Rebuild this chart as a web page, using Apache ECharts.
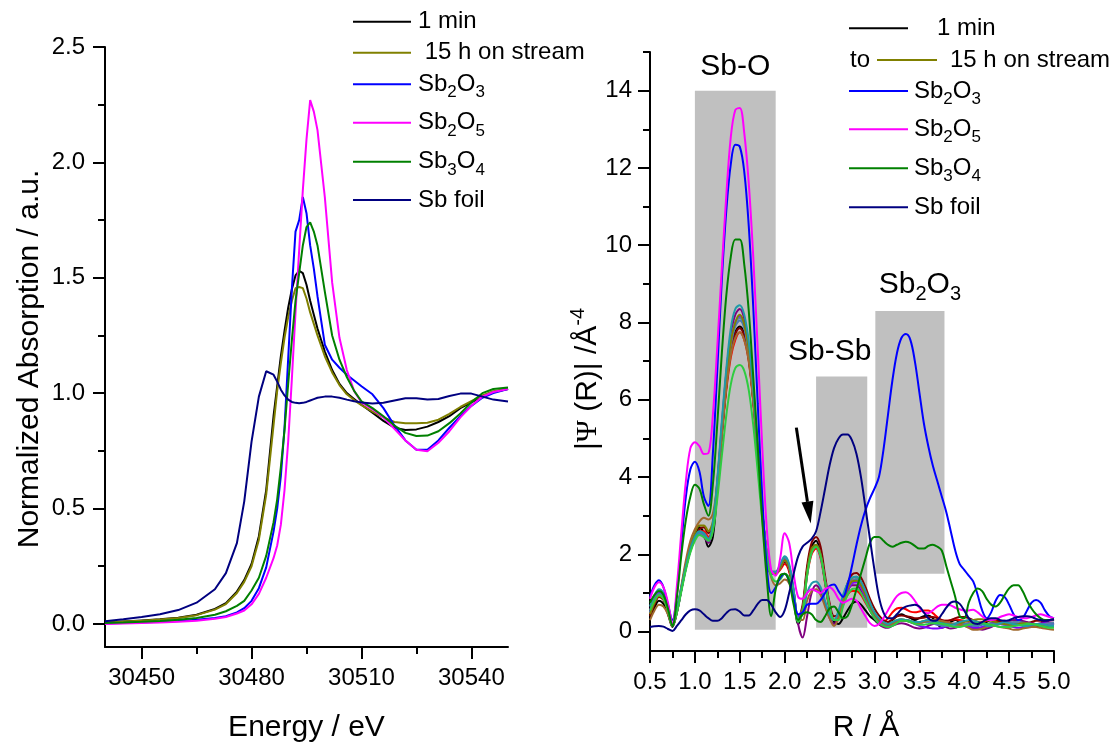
<!DOCTYPE html>
<html><head><meta charset="utf-8">
<script src="https://cdn.jsdelivr.net/npm/echarts@6/dist/echarts.min.js"></script>
<style>html,body{margin:0;padding:0;background:#fff}#c{width:1120px;height:748px}</style>
</head><body><div id="c"></div>
<script>
// ---------- Left panel: XANES ----------
const energy = [30440,30445,30450,30455,30460,30465,30470,30473,30476,30478,
30480,30482,30484,30486,30487,30488,30489,30490,30491,30492,
30493,30494,30495,30496,30497,30498,30500,30502,30504,30506,
30508,30510,30513,30516,30519,30522,30525,30528,30531,30534,
30537,30540,30543,30546,30550];
const xanes1min = [0.005,0.010,0.015,0.020,0.027,0.040,0.065,0.090,0.140,0.190,
0.260,0.380,0.580,0.900,1.030,1.160,1.270,1.370,1.450,1.510,
1.530,1.520,1.470,1.400,1.340,1.280,1.180,1.100,1.040,1.000,
0.975,0.950,0.915,0.880,0.850,0.840,0.843,0.855,0.875,0.900,
0.935,0.960,0.985,1.005,1.018];
const xanes15h = [0.005,0.010,0.014,0.019,0.026,0.038,0.062,0.086,0.134,0.182,
0.250,0.365,0.560,0.860,1.010,1.130,1.240,1.330,1.400,1.455,
1.460,1.455,1.410,1.350,1.300,1.250,1.160,1.090,1.035,0.995,
0.970,0.948,0.920,0.895,0.875,0.870,0.870,0.872,0.885,0.910,
0.940,0.965,0.990,1.008,1.020];
const xanesSb2O3 = [0.002,0.004,0.006,0.009,0.013,0.018,0.026,0.033,0.050,0.068,
0.100,0.155,0.245,0.400,0.500,0.640,0.850,1.150,1.450,1.700,
1.750,1.850,1.780,1.640,1.540,1.420,1.210,1.145,1.110,1.080,
1.055,1.030,0.995,0.935,0.860,0.795,0.755,0.755,0.795,0.850,
0.900,0.945,0.980,1.000,1.018];
const xanesSb2O5 = [0.000,0.002,0.004,0.006,0.009,0.014,0.022,0.030,0.045,0.058,
0.085,0.130,0.200,0.285,0.340,0.430,0.580,0.790,1.060,1.350,
1.620,1.880,2.100,2.270,2.220,2.140,1.850,1.480,1.240,1.100,
1.010,0.960,0.930,0.895,0.845,0.795,0.755,0.748,0.785,0.835,
0.895,0.945,0.985,1.005,1.018];
const xanesSb3O4 = [0.004,0.006,0.009,0.013,0.018,0.026,0.040,0.055,0.078,0.100,
0.145,0.200,0.295,0.440,0.540,0.680,0.840,1.040,1.230,1.400,
1.520,1.640,1.720,1.740,1.700,1.640,1.440,1.250,1.145,1.070,
1.010,0.965,0.935,0.900,0.860,0.828,0.814,0.816,0.835,0.870,
0.912,0.960,1.000,1.018,1.025];
const xanesFoil = [0.012,0.020,0.030,0.042,0.060,0.092,0.150,0.220,0.350,0.530,
0.790,0.985,1.095,1.080,1.050,1.015,0.990,0.972,0.962,0.958,
0.956,0.958,0.962,0.968,0.974,0.980,0.985,0.985,0.980,0.972,
0.965,0.960,0.955,0.958,0.968,0.978,0.978,0.972,0.975,0.988,
0.998,0.998,0.985,0.972,0.964];
const energyTicks = [30450,30480,30510,30540];
const energyMinor = [30465,30495,30525];
const absTicks = [0,0.5,1.0,1.5,2.0,2.5];
const absMinor = [0.25,0.75,1.25,1.75,2.25];

// ---------- Right panel: FT-EXAFS ----------
const rValues = [0.50,0.55,0.60,0.65,0.70,0.75,0.80,0.85,0.90,0.95,
1.00,1.05,1.10,1.15,1.20,1.25,1.30,1.35,1.40,1.45,
1.50,1.55,1.60,1.65,1.70,1.75,1.80,1.85,1.90,1.95,
2.00,2.05,2.10,2.15,2.20,2.25,2.30,2.35,2.40,2.45,
2.50,2.55,2.60,2.65,2.70,2.75,2.80,2.85,2.90,2.95,
3.00,3.05,3.10,3.15,3.20,3.25,3.30,3.35,3.40,3.45,
3.50,3.55,3.60,3.65,3.70,3.75,3.80,3.85,3.90,3.95,
4.00,4.05,4.10,4.15,4.20,4.25,4.30,4.35,4.40,4.45,
4.50,4.55,4.60,4.65,4.70,4.75,4.80,4.85,4.90,4.95,
5.00];
const ft1min = [0.35,0.62,0.80,0.72,0.45,0.12,0.50,1.10,1.70,2.20,
2.50,2.70,2.55,2.20,2.45,3.70,5.10,6.35,7.25,7.75,
7.90,7.70,7.10,6.00,4.60,3.10,2.00,1.50,1.50,1.65,
1.85,1.60,0.90,0.20,0.60,1.60,2.20,2.35,2.00,1.30,
0.60,0.25,0.20,0.35,0.55,0.72,0.78,0.70,0.55,0.40,
0.30,0.20,0.15,0.20,0.30,0.40,0.45,0.40,0.35,0.30,
0.35,0.40,0.42,0.35,0.20,0.10,0.15,0.25,0.30,0.25,
0.20,0.15,0.10,0.15,0.20,0.25,0.30,0.30,0.25,0.20,
0.20,0.20,0.22,0.25,0.22,0.20,0.15,0.12,0.15,0.18,
0.20];
const ftScan2 = [0.45,0.75,0.95,0.85,0.55,0.15,0.55,1.15,1.75,2.20,
2.45,2.60,2.60,2.45,2.70,3.80,5.10,6.25,7.10,7.55,
7.75,7.55,7.00,5.95,4.55,3.10,2.05,1.55,1.50,1.60,
1.75,1.55,0.95,0.35,0.55,1.45,2.00,2.15,1.90,1.25,
0.60,0.30,0.40,0.70,0.95,1.05,1.05,0.95,0.75,0.55,
0.40,0.30,0.25,0.35,0.50,0.60,0.62,0.58,0.52,0.50,
0.52,0.55,0.55,0.48,0.38,0.30,0.28,0.30,0.32,0.30,
0.28,0.25,0.22,0.22,0.25,0.28,0.30,0.28,0.25,0.22,
0.20,0.18,0.18,0.20,0.22,0.22,0.20,0.18,0.15,0.15,
0.15];
const ftScan3 = [0.40,0.70,0.90,0.82,0.55,0.15,0.50,1.10,1.70,2.15,
2.45,2.65,2.70,2.55,2.75,3.75,5.15,6.35,7.25,7.70,
7.85,7.65,7.05,6.00,4.60,3.10,2.05,1.55,1.50,1.65,
1.80,1.60,1.00,0.35,0.70,1.70,2.30,2.45,2.20,1.45,
0.75,0.40,0.45,0.85,1.25,1.48,1.52,1.40,1.15,0.85,
0.60,0.42,0.30,0.25,0.32,0.40,0.42,0.40,0.38,0.35,
0.35,0.36,0.38,0.38,0.35,0.30,0.28,0.30,0.35,0.38,
0.38,0.35,0.30,0.25,0.22,0.20,0.22,0.25,0.28,0.28,
0.25,0.22,0.20,0.20,0.22,0.25,0.28,0.28,0.25,0.22,
0.22];
const ftScan4 = [0.50,0.82,1.00,0.90,0.60,0.18,0.55,1.10,1.65,2.10,
2.40,2.55,2.45,2.30,2.70,3.90,5.35,6.70,7.70,8.20,
8.35,8.10,7.40,6.20,4.70,3.15,2.05,1.55,1.55,1.70,
1.90,1.70,1.05,0.20,-0.15,0.40,1.00,1.20,1.05,0.70,
0.35,0.20,0.45,0.80,1.05,1.20,1.20,1.05,0.80,0.55,
0.35,0.20,0.12,0.10,0.15,0.20,0.22,0.20,0.15,0.10,
0.08,0.10,0.15,0.20,0.22,0.18,0.12,0.08,0.10,0.15,
0.18,0.15,0.10,0.08,0.05,0.08,0.12,0.18,0.22,0.25,
0.28,0.30,0.30,0.28,0.25,0.22,0.20,0.22,0.25,0.28,
0.30];
const ftScan5 = [0.55,0.85,1.00,0.92,0.62,0.18,0.55,1.10,1.65,2.10,
2.40,2.55,2.50,2.35,2.65,3.80,5.20,6.50,7.50,8.00,
8.15,7.90,7.25,6.10,4.65,3.10,2.00,1.50,1.50,1.65,
1.85,1.65,1.05,0.40,0.60,1.50,2.10,2.20,1.95,1.30,
0.65,0.30,0.35,0.70,1.05,1.25,1.28,1.15,0.90,0.62,
0.40,0.25,0.18,0.15,0.18,0.25,0.30,0.30,0.25,0.20,
0.15,0.12,0.10,0.08,0.08,0.10,0.15,0.20,0.20,0.18,
0.15,0.12,0.10,0.10,0.12,0.15,0.18,0.20,0.20,0.18,
0.15,0.12,0.10,0.10,0.12,0.15,0.18,0.20,0.22,0.22,
0.20];
const ftScan6 = [0.48,0.78,0.95,0.86,0.57,0.16,0.52,1.08,1.65,2.12,
2.42,2.58,2.52,2.38,2.72,3.85,5.25,6.55,7.50,8.00,
8.12,7.90,7.25,6.10,4.62,3.10,2.02,1.52,1.52,1.70,
1.92,1.70,1.05,0.28,0.52,1.48,2.10,2.25,2.00,1.32,
0.66,0.30,0.38,0.78,1.12,1.32,1.36,1.25,1.00,0.72,
0.48,0.32,0.24,0.20,0.22,0.26,0.28,0.28,0.26,0.24,
0.24,0.25,0.26,0.25,0.22,0.18,0.15,0.14,0.15,0.18,
0.20,0.22,0.24,0.24,0.22,0.20,0.18,0.18,0.20,0.22,
0.24,0.25,0.25,0.24,0.22,0.20,0.18,0.18,0.20,0.22,
0.24];
const ftScan7 = [0.50,0.80,0.98,0.88,0.58,0.15,0.55,1.10,1.65,2.10,
2.40,2.55,2.50,2.35,2.70,3.80,5.20,6.45,7.40,7.90,
8.05,7.85,7.20,6.05,4.60,3.10,2.00,1.50,1.50,1.65,
1.85,1.65,1.00,0.30,0.55,1.50,2.05,2.20,1.95,1.30,
0.65,0.30,0.35,0.75,1.10,1.30,1.35,1.22,0.98,0.70,
0.45,0.30,0.20,0.18,0.22,0.28,0.30,0.28,0.25,0.22,
0.22,0.25,0.25,0.22,0.18,0.15,0.15,0.18,0.22,0.22,
0.20,0.18,0.15,0.15,0.18,0.20,0.22,0.22,0.20,0.18,
0.18,0.18,0.20,0.22,0.22,0.20,0.18,0.15,0.15,0.18,
0.20];
const ftScan8 = [0.30,0.55,0.70,0.65,0.45,0.15,0.55,1.20,1.85,2.35,
2.65,2.85,2.95,2.90,3.05,3.85,5.10,6.30,7.15,7.60,
7.75,7.55,7.00,5.95,4.55,3.05,1.95,1.40,1.20,1.25,
1.35,1.25,0.85,0.30,0.30,0.80,1.05,1.10,0.95,0.65,
0.35,0.15,0.35,0.80,1.15,1.38,1.42,1.30,1.05,0.75,
0.48,0.32,0.22,0.18,0.20,0.25,0.28,0.28,0.25,0.22,
0.22,0.25,0.28,0.30,0.30,0.28,0.25,0.22,0.20,0.18,
0.15,0.10,0.05,0.05,0.08,0.12,0.15,0.15,0.12,0.10,
0.08,0.05,0.05,0.08,0.10,0.12,0.12,0.10,0.08,0.06,
0.05];
const ftScan9 = [0.65,0.95,1.10,1.00,0.65,0.18,0.60,1.15,1.70,2.15,
2.45,2.60,2.55,2.40,2.80,3.95,5.45,6.80,7.85,8.35,
8.45,8.20,7.50,6.30,4.75,3.15,2.05,1.55,1.55,1.75,
1.95,1.75,1.10,0.35,0.45,1.00,1.25,1.30,1.15,0.80,
0.45,0.30,0.55,0.95,1.25,1.40,1.42,1.30,1.05,0.75,
0.50,0.35,0.25,0.20,0.25,0.30,0.32,0.30,0.28,0.25,
0.25,0.28,0.30,0.28,0.25,0.22,0.20,0.18,0.20,0.25,
0.28,0.30,0.28,0.25,0.20,0.15,0.15,0.18,0.22,0.25,
0.22,0.20,0.18,0.15,0.15,0.18,0.20,0.20,0.18,0.15,
0.15];
const ftScan10 = [0.55,0.80,0.95,0.85,0.55,0.15,0.50,1.05,1.60,2.05,
2.35,2.50,2.45,2.35,2.60,3.45,4.55,5.60,6.40,6.82,
6.90,6.75,6.25,5.35,4.15,2.90,1.90,1.45,1.30,1.35,
1.50,1.40,0.90,0.25,0.50,1.45,2.05,2.20,1.95,1.30,
0.65,0.30,0.30,0.65,0.95,1.10,1.12,1.00,0.78,0.55,
0.35,0.22,0.15,0.12,0.15,0.22,0.28,0.28,0.25,0.20,
0.18,0.18,0.20,0.22,0.22,0.20,0.18,0.15,0.12,0.12,
0.15,0.18,0.20,0.22,0.22,0.20,0.18,0.15,0.12,0.12,
0.12,0.14,0.16,0.18,0.20,0.20,0.18,0.15,0.12,0.10,
0.10];
const ft15h = [0.45,0.75,0.92,0.85,0.55,0.15,0.55,1.15,1.75,2.25,
2.55,2.75,2.75,2.60,2.85,3.85,5.25,6.50,7.50,8.00,
8.20,7.95,7.30,6.15,4.70,3.15,2.05,1.55,1.50,1.65,
1.85,1.65,1.00,0.30,0.60,1.55,2.15,2.25,2.00,1.30,
0.65,0.30,0.35,0.75,1.10,1.30,1.32,1.20,0.95,0.68,
0.45,0.30,0.22,0.20,0.25,0.30,0.32,0.30,0.28,0.25,
0.25,0.28,0.30,0.30,0.28,0.25,0.22,0.20,0.20,0.22,
0.25,0.28,0.30,0.32,0.32,0.30,0.28,0.25,0.22,0.20,
0.18,0.18,0.20,0.22,0.22,0.20,0.18,0.16,0.15,0.15,
0.15];
const ftSb2O3 = [0.90,1.20,1.33,1.15,0.70,0.30,1.00,2.30,3.50,4.20,
4.40,4.15,3.50,3.25,4.60,6.80,9.10,10.90,12.10,12.60,
12.55,11.90,10.50,8.40,5.90,3.50,1.70,1.00,1.15,1.40,
1.50,1.30,0.85,0.45,0.50,0.70,0.72,0.72,0.82,1.00,
1.18,1.22,1.05,0.90,1.20,1.70,2.25,2.75,3.15,3.45,
3.70,4.00,4.70,5.60,6.50,7.20,7.60,7.70,7.55,7.00,
6.20,5.40,4.80,4.30,3.90,3.50,3.10,2.60,2.10,1.75,
1.60,1.45,1.30,0.95,0.55,0.35,0.50,0.80,0.95,0.90,
0.70,0.45,0.30,0.35,0.55,0.75,0.82,0.75,0.55,0.40,
0.35];
const ftSb2O5 = [0.85,1.15,1.28,1.15,0.75,0.20,1.20,2.60,3.90,4.75,
4.90,4.80,4.60,4.62,5.60,7.40,9.40,11.30,12.80,13.50,
13.55,12.90,11.60,9.70,7.30,4.80,2.70,1.60,1.45,1.90,
2.55,2.30,1.50,0.90,0.85,1.00,1.10,1.05,1.00,1.10,
1.15,1.05,0.85,0.75,0.80,0.85,0.80,0.60,0.40,0.22,
0.15,0.20,0.35,0.55,0.75,0.92,1.00,1.02,0.95,0.80,
0.62,0.50,0.48,0.55,0.65,0.70,0.70,0.68,0.62,0.58,
0.55,0.55,0.57,0.50,0.40,0.32,0.30,0.32,0.38,0.42,
0.45,0.42,0.38,0.35,0.35,0.38,0.42,0.45,0.42,0.38,
0.35];
const ftSb3O4 = [0.75,0.95,1.05,0.95,0.60,0.15,0.90,2.00,2.90,3.50,
3.80,3.70,3.30,3.00,3.80,5.40,7.20,8.70,9.70,10.15,
10.15,9.50,8.30,6.60,4.80,2.90,1.40,0.40,1.10,1.45,
1.50,1.30,0.70,0.30,0.45,0.50,0.45,0.30,0.25,0.40,
0.60,0.65,0.50,0.35,0.40,0.70,1.10,1.50,1.90,2.30,
2.45,2.45,2.35,2.25,2.20,2.25,2.30,2.33,2.30,2.22,
2.15,2.15,2.22,2.25,2.20,2.10,1.70,1.30,0.90,0.40,
0.35,0.75,1.00,1.12,1.05,0.85,0.70,0.65,0.75,0.95,
1.12,1.20,1.20,1.05,0.80,0.60,0.45,0.35,0.30,0.30,
0.32];
const ftFoil = [0.12,0.14,0.15,0.13,0.07,0.02,0.15,0.30,0.45,0.55,
0.58,0.55,0.45,0.35,0.28,0.28,0.35,0.48,0.57,0.58,
0.52,0.42,0.42,0.55,0.72,0.82,0.82,0.70,0.50,0.38,
0.55,1.00,1.50,1.95,2.20,2.30,2.40,2.60,3.10,3.70,
4.30,4.75,5.00,5.10,5.10,4.95,4.60,4.00,3.20,2.40,
1.60,0.90,0.50,0.35,0.35,0.45,0.58,0.65,0.68,0.70,
0.65,0.50,0.35,0.28,0.30,0.45,0.62,0.75,0.78,0.72,
0.55,0.35,0.22,0.20,0.25,0.32,0.35,0.35,0.30,0.28,
0.30,0.35,0.38,0.40,0.40,0.38,0.33,0.30,0.28,0.30,
0.32];
const rTicks = [0.5,1.0,1.5,2.0,2.5,3.0,3.5,4.0,4.5,5.0];
const rMinor = [0.75,1.25,1.75,2.25,2.75,3.25,3.75,4.25,4.75];
const psiTicks = [0,2,4,6,8,10,12,14];
const psiMinor = [1,3,5,7,9,11,13,15];
// shaded regions [Rmin, Rmax, |Psi|min, |Psi|max] and their labels
const regionBounds = [[1.0,1.9,0.05,14.0],[2.35,2.92,0.1,6.6],[3.01,3.78,1.5,8.3]];
const regionNames = ['Sb-O','Sb-Sb','Sb{sub|2}O{sub|3}'];
// arrow [R start, |Psi| start, R end, |Psi| end]
const arrowCoords = [[2.13,5.28,2.29,2.8]];

// ---------- chart ----------
const FONT = '"Liberation Sans", Arial, Helvetica, sans-serif';
const pair = (xs, ys) => xs.map((x, i) => [x, ys[i]]);

const xanesSeries = [
  ['1 min', xanes1min, '#000000'],
  ['15 h on stream', xanes15h, '#808000'],
  ['Sb2O3', xanesSb2O3, '#0000ff'],
  ['Sb2O5', xanesSb2O5, '#ff00ff'],
  ['Sb3O4', xanesSb3O4, '#008000'],
  ['Sb foil', xanesFoil, '#000080']
].map(([n, d, c]) => ({
  name: n, type: 'line', xAxisIndex: 0, yAxisIndex: 0, data: pair(energy, d),
  showSymbol: false, smooth: false, lineStyle: {color: c, width: 2}, itemStyle: {color: c}, z: 3
}));

const ftSeries = [
  ['1 min', ft1min, '#000000'],
  ['scan 2', ftScan2, '#ff0000'],
  ['scan 3', ftScan3, '#800000'],
  ['scan 4', ftScan4, '#800080'],
  ['scan 5', ftScan5, '#8000ff'],
  ['scan 6', ftScan6, '#5b7fa6'],
  ['scan 7', ftScan7, '#4a7ab5'],
  ['15 h on stream', ft15h, '#808000'],
  ['scan 8', ftScan8, '#a0692e'],
  ['scan 9', ftScan9, '#1f9aa8'],
  ['scan 10', ftScan10, '#2ecc40'],
  ['Sb2O3', ftSb2O3, '#0000ff'],
  ['Sb2O5', ftSb2O5, '#ff00ff'],
  ['Sb3O4', ftSb3O4, '#008000'],
  ['Sb foil', ftFoil, '#000080']
].map(([n, d, c]) => ({
  name: n, type: 'line', xAxisIndex: 1, yAxisIndex: 1, data: pair(rValues, d),
  showSymbol: false, smooth: 0.35, lineStyle: {color: c, width: 2}, itemStyle: {color: c}, z: 3
}));

const labelOffsets = [[0, -24], [-12, -25], [10, -26]];
const subRich = {sub: {fontSize: 20, lineHeight: 20, verticalAlign: 'bottom', fontFamily: FONT}};

const regionSeries = {
  type: 'custom', xAxisIndex: 1, yAxisIndex: 1, z: 1, silent: true,
  data: regionBounds,
  renderItem: (params, api) => {
    const i = params.dataIndex;
    const tl = api.coord([api.value(0), api.value(3)]);
    const br = api.coord([api.value(1), api.value(2)]);
    const off = labelOffsets[i];
    return {type: 'group', children: [
      {type: 'rect', shape: {x: tl[0], y: tl[1], width: br[0] - tl[0], height: br[1] - tl[1]}, style: {fill: '#c0c0c0'}},
      {type: 'text', x: (tl[0] + br[0]) / 2 + off[0], y: tl[1] + off[1],
       style: {text: regionNames[i], fontSize: 30, fontFamily: FONT, fill: '#000', align: 'center', verticalAlign: 'middle', lineHeight: 40, rich: subRich}}
    ]};
  }
};

const arrowSeries = {
  type: 'custom', xAxisIndex: 1, yAxisIndex: 1, z: 5, silent: true,
  data: arrowCoords,
  renderItem: (params, api) => {
    const s = api.coord([api.value(0), api.value(1)]);
    const e = api.coord([api.value(2), api.value(3)]);
    const dx = e[0] - s[0], dy = e[1] - s[1];
    const len = Math.sqrt(dx * dx + dy * dy);
    const ux = dx / len, uy = dy / len;
    const hl = 22, hw = 6;
    const bx = e[0] - ux * hl, by = e[1] - uy * hl;
    return {type: 'group', children: [
      {type: 'line', shape: {x1: s[0], y1: s[1], x2: bx, y2: by}, style: {stroke: '#000', lineWidth: 3}},
      {type: 'polygon', shape: {points: [[e[0], e[1]], [bx - uy * hw, by + ux * hw], [bx + uy * hw, by - ux * hw]]}, style: {fill: '#000'}}
    ]};
  }
};

const axisLineStyle = {color: '#000', width: 2};
function mainAxis(extra) {
  return Object.assign({
    type: 'value', splitLine: {show: false},
    axisLine: {show: true, onZero: false, lineStyle: axisLineStyle},
  }, extra);
}
function minorAxis(extra, vals) {
  return Object.assign({
    type: 'value', splitLine: {show: false},
    axisLine: {show: false, onZero: false},
    axisLabel: {show: false},
    axisTick: {show: true, customValues: vals, length: 7, lineStyle: {color: '#000', width: 2}}
  }, extra);
}

const legendLeftItems = [
  ['1 min', '#000000'], [' 15 h on stream', '#808000'], ['Sb{sub|2}O{sub|3}', '#0000ff'],
  ['Sb{sub|2}O{sub|5}', '#ff00ff'], ['Sb{sub|3}O{sub|4}', '#008000'], ['Sb foil', '#000080']
];
const legendLeftY = [21.7, 52.7, 84.3, 122.7, 161.7, 200];
const legendRightY = [28.3, 60, 91, 129.3, 168.3, 207.3];
const graphics = [];
function legText(x, y, t) {
  return {type: 'text', x: x, y: y, silent: true, style: {text: t, fontSize: 24, fontFamily: FONT, fill: '#000', verticalAlign: 'middle', lineHeight: 34, rich: {sub: {fontSize: 17, lineHeight: 17, verticalAlign: 'bottom', fontFamily: FONT}}}};
}
function legLine(x1, x2, y, c) {
  return {type: 'line', silent: true, shape: {x1: x1, y1: y, x2: x2, y2: y}, style: {stroke: c, lineWidth: 2}};
}
legendLeftItems.forEach((it, i) => {
  graphics.push(legLine(353, 411, legendLeftY[i], it[1]));
  graphics.push(legText(418, legendLeftY[i], it[0]));
});
// right legend
graphics.push(legLine(849, 908, legendRightY[0], '#000000'));
graphics.push(legText(937, legendRightY[0], '1 min'));
graphics.push(legText(850, legendRightY[1], 'to'));
graphics.push(legLine(877, 937, legendRightY[1], '#808000'));
graphics.push(legText(950, legendRightY[1], '15 h on stream'));
legendLeftItems.slice(2).forEach((it, i) => {
  graphics.push(legLine(849, 908, legendRightY[i + 2], it[1]));
  graphics.push(legText(914, legendRightY[i + 2], it[0]));
});
// right y-axis title
graphics.push({type: 'text', x: 588, y: 379, rotation: Math.PI / 2, silent: true,
  style: {text: '|{psi|Ψ} (R)| /Å{sup|-4}', fontSize: 30, fontFamily: FONT, fill: '#000', align: 'center', verticalAlign: 'middle', lineHeight: 40,
    rich: {psi: {fontSize: 30, lineHeight: 40, fontFamily: '"Liberation Serif", "DejaVu Serif", serif'}, sup: {fontSize: 20, lineHeight: 20, verticalAlign: 'top', fontFamily: FONT}}}});

const option = {
  animation: false,
  backgroundColor: '#ffffff',
  textStyle: {fontFamily: FONT},
  grid: [
    {left: 105, right: 612, top: 47, bottom: 96},
    {left: 650, right: 66, top: 52, bottom: 93}
  ],
  xAxis: [
    mainAxis({gridIndex: 0, position: 'bottom', min: 30440, max: 30550,
      axisTick: {show: true, customValues: energyTicks, length: 12, lineStyle: {color: '#000', width: 2}},
      axisLabel: {customValues: energyTicks, formatter: v => String(v), fontSize: 24, color: '#000', margin: 19, fontFamily: FONT},
      name: 'Energy / eV', nameLocation: 'middle', nameGap: 66, nameTextStyle: {fontSize: 30, color: '#000', fontFamily: FONT}}),
    mainAxis({gridIndex: 1, position: 'bottom', min: 0.5, max: 5.0,
      axisTick: {show: true, customValues: rTicks, length: 12, lineStyle: {color: '#000', width: 2}},
      axisLabel: {customValues: rTicks, formatter: v => v.toFixed(1), fontSize: 24, color: '#000', margin: 19, fontFamily: FONT},
      name: 'R / Å', nameLocation: 'middle', nameGap: 62, nameTextStyle: {fontSize: 30, color: '#000', fontFamily: FONT, padding: [0, 0, 0, 28]}}),
    minorAxis({gridIndex: 0, position: 'bottom', min: 30440, max: 30550}, energyMinor),
    minorAxis({gridIndex: 1, position: 'bottom', min: 0.5, max: 5.0}, rMinor)
  ],
  yAxis: [
    mainAxis({gridIndex: 0, position: 'left', min: -0.1, max: 2.5,
      axisTick: {show: true, customValues: absTicks, length: 12, lineStyle: {color: '#000', width: 2}},
      axisLabel: {customValues: absTicks, formatter: v => v.toFixed(1), fontSize: 24, color: '#000', margin: 20, fontFamily: FONT},
      name: 'Normalized Absorption / a.u.', nameLocation: 'middle', nameGap: 60, nameTextStyle: {fontSize: 30, color: '#000', fontFamily: FONT, padding: [0, 24, 0, 0]}}),
    mainAxis({gridIndex: 1, position: 'left', min: -0.5, max: 15,
      axisTick: {show: true, customValues: psiTicks, length: 12, lineStyle: {color: '#000', width: 2}},
      axisLabel: {customValues: psiTicks, formatter: v => String(v), fontSize: 24, color: '#000', margin: 18, fontFamily: FONT}}),
    minorAxis({gridIndex: 0, position: 'left', min: -0.1, max: 2.5}, absMinor),
    minorAxis({gridIndex: 1, position: 'left', min: -0.5, max: 15}, psiMinor)
  ],
  series: [regionSeries].concat(xanesSeries, ftSeries, [arrowSeries]),
  graphic: graphics
};
const chart = echarts.init(document.getElementById('c'), null, {renderer: 'canvas'});
chart.setOption(option);
</script>
</body></html>
